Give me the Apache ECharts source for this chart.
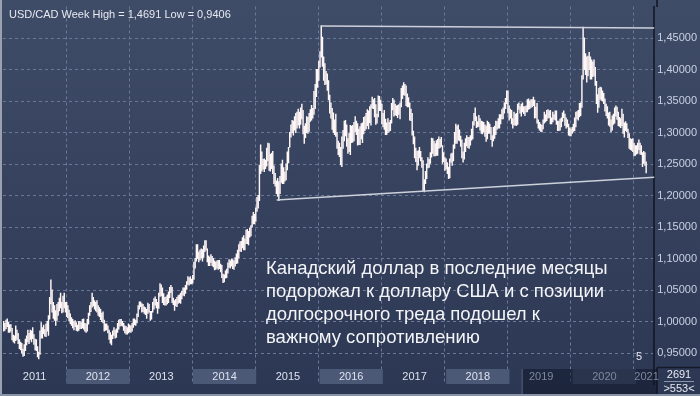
<!DOCTYPE html>
<html><head><meta charset="utf-8">
<script src="https://cdn.jsdelivr.net/npm/echarts@6.0.0/dist/echarts.min.js"></script>
<style>html,body{margin:0;padding:0;background:#34405c}#c{width:700px;height:396px}</style>
</head><body><div id="c"></div>
<script>
// Weekly [low, high] ranges of USD/CAD
const w2011 = [[0.985,1.000],[0.986,0.997],[0.989,1.002],[0.992,1.004],
[0.983,0.999],[0.983,0.995],[0.985,0.995],[0.971,0.989],
[0.968,0.978],[0.966,0.977],[0.970,0.993],[0.972,0.986],[0.965,0.981],
[0.957,0.971],[0.955,0.967],[0.950,0.965],[0.945,0.956],
[0.946,0.963],[0.954,0.972],[0.963,0.977],[0.968,0.986],
[0.965,0.981],[0.972,0.986],[0.968,0.985],[0.973,0.990],[0.964,0.979],
[0.955,0.972],[0.954,0.971],[0.944,0.960],[0.941,0.951],
[0.948,0.985],[0.974,0.998],[0.974,0.990],[0.981,0.994],[0.977,0.987],
[0.976,0.996],[0.985,1.000],[0.978,1.009],[1.004,1.038],
[1.028,1.066],[1.015,1.050],[1.005,1.030],[1.002,1.025],[0.994,1.017],
[1.002,1.027],[1.010,1.030],[1.017,1.037],[1.022,1.045],
[1.014,1.030],[1.015,1.040],[1.022,1.045],[1.015,1.030]];
const w2012 = [[1.008,1.030],[1.006,1.025],[1.001,1.018],[0.997,1.012],
[0.994,1.006],[0.990,1.003],[0.987,1.000],[0.992,1.001],
[0.986,0.998],[0.985,0.994],[0.986,1.000],[0.989,1.000],[0.989,0.998],
[0.990,1.003],[0.988,1.004],[0.985,0.997],[0.983,0.996],
[0.985,1.003],[0.996,1.013],[1.010,1.025],[1.016,1.030],
[1.023,1.045],[1.025,1.038],[1.020,1.033],[1.017,1.030],[1.015,1.033],
[1.010,1.025],[1.008,1.022],[1.003,1.019],[1.000,1.013],
[0.998,1.015],[0.985,1.002],[0.986,0.996],[0.987,0.996],[0.982,0.993],
[0.972,0.986],[0.966,0.982],[0.963,0.978],[0.973,0.985],
[0.978,0.990],[0.974,0.986],[0.975,0.988],[0.983,0.997],[0.988,1.002],
[0.993,1.003],[0.994,1.003],[0.993,1.000],[0.986,0.997],
[0.982,0.993],[0.980,0.992],[0.980,0.990],[0.982,0.996]];
const w2013 = [[0.984,0.994],[0.983,0.993],[0.985,0.997],[0.991,1.004],
[0.995,1.004],[0.994,1.002],[0.998,1.012],[1.008,1.025],
[1.020,1.031],[1.024,1.031],[1.015,1.028],[1.016,1.027],[1.013,1.023],
[1.011,1.022],[1.005,1.019],[1.013,1.029],[1.015,1.027],
[1.002,1.016],[1.004,1.016],[1.015,1.030],[1.020,1.036],[1.026,1.039],
[1.022,1.035],[1.013,1.030],[1.021,1.045],[1.040,1.060],
[1.041,1.058],[1.030,1.053],[1.027,1.044],[1.026,1.038],
[1.026,1.039],[1.028,1.042],[1.030,1.047],[1.038,1.054],[1.046,1.057],
[1.030,1.054],[1.027,1.037],[1.018,1.033],[1.025,1.035],
[1.024,1.038],[1.029,1.041],[1.030,1.042],[1.029,1.045],[1.036,1.048],
[1.042,1.053],[1.041,1.053],[1.045,1.057],[1.051,1.063],
[1.059,1.071],[1.058,1.069],[1.060,1.071],[1.060,1.067]];
const w2014 = [[1.061,1.073],[1.067,1.094],[1.085,1.100],[1.096,1.122],
[1.100,1.122],[1.095,1.110],[1.098,1.113],[1.101,1.115],
[1.096,1.114],[1.102,1.120],[1.111,1.128],[1.114,1.128],
[1.095,1.115],[1.089,1.104],[1.089,1.102],[1.094,1.106],[1.089,1.103],
[1.087,1.100],[1.082,1.096],[1.083,1.094],[1.085,1.096],
[1.083,1.097],[1.084,1.097],[1.079,1.091],[1.070,1.089],
[1.062,1.075],[1.063,1.074],[1.069,1.080],[1.070,1.083],[1.077,1.093],
[1.086,1.098],[1.085,1.096],[1.088,1.099],[1.084,1.098],
[1.083,1.096],[1.088,1.101],[1.092,1.107],[1.093,1.113],[1.101,1.122],
[1.112,1.126],[1.111,1.127],[1.117,1.133],[1.114,1.136],
[1.114,1.131],[1.124,1.145],[1.124,1.146],[1.122,1.143],
[1.134,1.148],[1.136,1.152],[1.150,1.167],[1.155,1.173],[1.155,1.170]];
const w2015 = [[1.159,1.180],[1.175,1.197],[1.180,1.200],[1.192,1.248],[1.235,1.280],
[1.239,1.269],[1.242,1.257],[1.238,1.258],[1.243,1.256],
[1.247,1.275],[1.255,1.283],[1.240,1.282],[1.239,1.265],
[1.243,1.267],[1.235,1.270],[1.219,1.247],[1.215,1.235],[1.203,1.223],
[1.199,1.227],[1.192,1.222],[1.203,1.230],[1.221,1.250],
[1.219,1.256],[1.219,1.244],[1.223,1.237],[1.225,1.250],
[1.241,1.269],[1.252,1.276],[1.277,1.300],[1.293,1.312],
[1.300,1.319],[1.296,1.318],[1.304,1.325],[1.300,1.330],[1.307,1.332],
[1.312,1.337],[1.307,1.332],[1.313,1.339],[1.322,1.345],
[1.298,1.335],[1.283,1.310],[1.292,1.314],[1.300,1.325],[1.299,1.324],
[1.302,1.330],[1.318,1.336],[1.320,1.343],[1.323,1.338],
[1.329,1.365],[1.338,1.376],[1.357,1.400],[1.372,1.400]];
const w2016 = [[1.383,1.413],[1.404,1.428],[1.420,1.469],[1.405,1.451],[1.383,1.420],
[1.376,1.409],[1.377,1.397],[1.367,1.393],[1.352,1.382],
[1.331,1.359],[1.323,1.347],[1.305,1.338],[1.300,1.331],[1.297,1.320],
[1.294,1.329],[1.275,1.300],[1.265,1.286],[1.262,1.283],[1.249,1.276],
[1.246,1.293],[1.275,1.303],[1.287,1.318],[1.295,1.319],
[1.278,1.312],[1.267,1.290],[1.270,1.299],[1.265,1.311],
[1.284,1.310],[1.285,1.311],[1.287,1.316],[1.301,1.325],
[1.297,1.318],[1.280,1.314],[1.281,1.305],[1.281,1.309],
[1.290,1.314],[1.284,1.315],[1.298,1.324],[1.303,1.325],
[1.306,1.330],[1.311,1.336],[1.306,1.334],[1.316,1.341],
[1.312,1.344],[1.339,1.356],[1.338,1.352],[1.325,1.354],
[1.313,1.344],[1.315,1.329],[1.325,1.358],[1.335,1.357],[1.335,1.351]];
const w2017 = [[1.314,1.345],[1.309,1.330],[1.305,1.335],[1.297,1.321],
[1.297,1.315],[1.300,1.322],[1.302,1.316],[1.303,1.319],
[1.315,1.346],[1.336,1.354],[1.326,1.351],[1.328,1.345],[1.327,1.342],
[1.324,1.343],[1.329,1.344],[1.322,1.347],[1.341,1.370],[1.354,1.374],
[1.360,1.379],[1.359,1.376],[1.343,1.374],[1.341,1.361],
[1.341,1.355],[1.320,1.347],[1.319,1.337],[1.296,1.330],
[1.282,1.302],[1.260,1.293],[1.254,1.275],[1.241,1.270],
[1.248,1.271],[1.260,1.276],[1.255,1.270],[1.245,1.260],
[1.208,1.255],[1.206,1.225],[1.219,1.238],[1.227,1.250],
[1.244,1.260],[1.245,1.257],[1.251,1.268],[1.261,1.291],
[1.267,1.290],[1.263,1.286],[1.263,1.282],[1.264,1.287],[1.264,1.289],
[1.275,1.293],[1.276,1.289],[1.278,1.292],[1.251,1.279],[1.254,1.268]];
const w2018 = [[1.240,1.260],[1.242,1.258],[1.235,1.252],[1.227,1.245],
[1.228,1.258],[1.253,1.266],[1.248,1.267],[1.255,1.280],
[1.275,1.300],[1.283,1.313],[1.283,1.310],[1.288,1.312],[1.287,1.304],
[1.278,1.294],[1.260,1.288],[1.253,1.269],[1.258,1.283],[1.270,1.290],
[1.279,1.295],[1.276,1.292],[1.275,1.292],[1.280,1.295],
[1.288,1.305],[1.290,1.317],[1.312,1.330],[1.319,1.339],
[1.308,1.325],[1.309,1.317],[1.310,1.327],[1.304,1.322],
[1.299,1.318],[1.298,1.317],[1.301,1.316],[1.294,1.312],[1.286,1.310],
[1.290,1.318],[1.299,1.316],[1.299,1.313],[1.289,1.308],
[1.278,1.295],[1.287,1.308],[1.291,1.310],[1.297,1.318],
[1.305,1.317],[1.307,1.322],[1.307,1.328],[1.314,1.328],[1.322,1.336],
[1.322,1.339],[1.331,1.347],[1.338,1.354],[1.346,1.366]];
const w2019 = [[1.331,1.366],[1.320,1.342],[1.323,1.337],[1.314,1.335],
[1.307,1.322],[1.312,1.332],[1.312,1.329],[1.311,1.330],
[1.313,1.345],[1.337,1.347],[1.331,1.341],[1.326,1.345],[1.333,1.347],
[1.330,1.341],[1.327,1.341],[1.333,1.342],[1.333,1.352],
[1.337,1.353],[1.338,1.350],[1.340,1.352],[1.341,1.352],[1.343,1.356],
[1.323,1.351],[1.324,1.340],[1.315,1.346],[1.307,1.320],
[1.304,1.316],[1.302,1.313],[1.301,1.311],[1.306,1.320],
[1.315,1.332],[1.317,1.328],[1.319,1.335],[1.323,1.336],[1.324,1.334],
[1.314,1.335],[1.314,1.323],[1.317,1.332],[1.321,1.328],
[1.320,1.334],[1.313,1.334],[1.303,1.318],[1.303,1.318],
[1.304,1.321],[1.309,1.323],[1.318,1.331],[1.324,1.334],
[1.311,1.329],[1.307,1.323],[1.309,1.320],[1.296,1.313],[1.295,1.307]];
const w2020 = [[1.295,1.305],[1.299,1.308],[1.302,1.313],[1.303,1.323],
[1.309,1.332],[1.322,1.333],[1.320,1.335],[1.325,1.346],
[1.327,1.347],[1.340,1.390],[1.385,1.467],[1.400,1.450],[1.392,1.425],
[1.380,1.420],[1.390,1.421],[1.400,1.427],[1.385,1.420],
[1.385,1.415],[1.389,1.412],[1.390,1.415],[1.375,1.403],
[1.346,1.381],[1.332,1.360],[1.340,1.370],[1.353,1.372],
[1.351,1.371],[1.350,1.366],[1.346,1.362],[1.334,1.353],
[1.327,1.345],[1.323,1.341],[1.312,1.331],[1.310,1.332],
[1.301,1.320],[1.304,1.326],[1.313,1.329],[1.315,1.339],[1.326,1.342],
[1.321,1.340],[1.311,1.332],[1.310,1.324],[1.308,1.322],[1.311,1.337],
[1.299,1.329],[1.293,1.315],[1.303,1.317],[1.301,1.314],
[1.292,1.305],[1.275,1.298],[1.273,1.290],[1.272,1.289],[1.270,1.290]];
const w2021 = [[1.263,1.283],[1.264,1.279],[1.266,1.279],[1.267,1.283],
[1.273,1.288],[1.266,1.283],[1.265,1.279],[1.246,1.268],
[1.251,1.270],[1.248,1.268],[1.236,1.253]];

const weeklyByYear = {2011:w2011,2012:w2012,2013:w2013,2014:w2014,2015:w2015,2016:w2016,
  2017:w2017,2018:w2018,2019:w2019,2020:w2020,2021:w2021};
const yearLabels = ['2011','2012','2013','2014','2015','2016','2017','2018','2019','2020','2021'];
const topTrend = [[2016.04,1.469],[2021.33,1.466]];
const bottomTrend = [[2015.34,1.193],[2021.33,1.229]];
const lastPrice = 1.25105;
const titleText = 'USD/CAD Week High = 1,4691 Low = 0,9406';
const noteLines = ['Канадский доллар в последние месяцы','подорожал к доллару США и с позиции',
  'долгосрочного треда подошел к','важному сопротивлению'];
const X_MIN = 2011, X_MAX = 2021.33;
const fadedFrom = 2019.2;

const bars = [];
Object.keys(weeklyByYear).forEach(y => {
  weeklyByYear[y].forEach((p, i) => bars.push([+y + (i + 0.5) / 52, p[0], p[1]]));
});

const chart = echarts.init(document.getElementById('c'), null, {renderer: 'canvas'});
const gridColor = '#6a7896';
const FONT = "'Liberation Sans', Arial, sans-serif";
const NARROW = "'Liberation Sans Narrow', 'Liberation Sans', Arial, sans-serif";

chart.setOption({
  animation: false,
  backgroundColor: {type: 'linear', x: 0, y: 0, x2: 0, y2: 1,
    colorStops: [{offset: 0, color: '#3f4c68'}, {offset: 1, color: '#2c3753'}]},
  title: {text: titleText, left: 4, top: 4,
    textStyle: {color: '#e6e9f0', fontSize: 11, fontWeight: 'normal', fontFamily: NARROW}},
  grid: [
    {left: 3, right: 43, top: 6.5, bottom: 11.5},
    {left: 3, right: 43, top: 368, bottom: 0}
  ],
  xAxis: [
    {type: 'value', gridIndex: 0, min: X_MIN, max: X_MAX, interval: 1,
      axisLine: {show: false}, axisTick: {show: false}, axisLabel: {show: false},
      splitLine: {show: true, showMinLine: false, showMaxLine: false, lineStyle: {color: gridColor, type: [3, 3], width: 1}}},
    {type: 'value', gridIndex: 1, min: X_MIN, max: X_MAX, position: 'top',
      axisLine: {show: true, lineStyle: {color: '#141a28', width: 1.5}},
      axisTick: {show: false}, axisLabel: {show: false}, splitLine: {show: false}}
  ],
  yAxis: [
    {type: 'value', gridIndex: 0, position: 'right', min: 0.9, max: 1.5, interval: 0.05,
      axisLine: {show: true, lineStyle: {color: '#10151f', width: 1.5}},
      axisTick: {show: false},
      axisLabel: {color: '#c9d1e3', fontSize: 11, margin: 3, fontFamily: NARROW,
        formatter: v => (v < 0.93 || v > 1.47) ? '' : v.toFixed(5).replace('.', ',')},
      splitLine: {show: true, showMinLine: false, showMaxLine: false, lineStyle: {color: gridColor, type: [3, 3], width: 1}}},
    {type: 'value', gridIndex: 1, position: 'right', min: 0, max: 1,
      axisLine: {show: true, lineStyle: {color: '#10151f', width: 1.5}},
      axisTick: {show: false}, axisLabel: {show: false}, splitLine: {show: false}}
  ],
  series: [
    {
      type: 'custom', xAxisIndex: 0, yAxisIndex: 0, data: bars, encode: {x: 0, y: [1, 2]},
      clip: true, z: 3,
      renderItem: (params, api) => {
        const a = api.coord([api.value(0), api.value(1)]);
        const b = api.coord([api.value(0), api.value(2)]);
        return {type: 'line', shape: {x1: a[0], y1: a[1] + 0.5, x2: b[0], y2: b[1] - 0.5},
          style: {stroke: '#fff6f6', lineWidth: 1.45}};
      }
    },
    {type: 'line', xAxisIndex: 0, yAxisIndex: 0, data: topTrend, symbol: 'none', z: 4,
      lineStyle: {color: '#cdd1da', width: 1.5}},
    {type: 'line', xAxisIndex: 0, yAxisIndex: 0, data: bottomTrend, symbol: 'none', z: 4,
      lineStyle: {color: '#cdd1da', width: 1.5},
      markLine: {silent: true, symbol: 'none', data: [{yAxis: lastPrice}],
        lineStyle: {opacity: 0},
        label: {show: true, position: 'end', distance: 3, formatter: '1,25105',
          color: '#1e2230', backgroundColor: '#c4c8d0', padding: [2, 2, 1, 2],
          fontSize: 11, fontFamily: NARROW}}},
    {
      type: 'custom', xAxisIndex: 1, yAxisIndex: 1, data: yearLabels.map(y => [+y]), z: 2,
      renderItem: (params, api) => {
        const cs = params.coordSys;
        const y0 = +yearLabels[params.dataIndex];
        const xa = Math.max(api.coord([y0, 0])[0], cs.x);
        const xb = Math.min(api.coord([y0 + 1, 0])[0], cs.x + cs.width);
        const shaded = params.dataIndex % 2 === 1;
        return {type: 'rect', shape: {x: xa, y: cs.y + 1, width: xb - xa, height: 15},
          style: {fill: shaded ? '#4b5876' : 'rgba(0,0,0,0)'}};
      }
    },
    {
      type: 'custom', xAxisIndex: 1, yAxisIndex: 1, data: [[fadedFrom]], z: 3,
      renderItem: (params, api) => {
        const cs = params.coordSys;
        const xa = api.coord([api.value(0), 0])[0];
        return {type: 'group', children: [
          {type: 'rect', shape: {x: xa, y: cs.y + 1, width: cs.x + cs.width - xa, height: cs.height},
            style: {fill: 'rgba(16,23,42,0.55)'}},
          {type: 'line', shape: {x1: xa, y1: cs.y + 1, x2: xa, y2: cs.y + cs.height},
            style: {stroke: '#59657f', lineWidth: 1}}
        ]};
      }
    },
    {
      type: 'custom', xAxisIndex: 1, yAxisIndex: 1, data: yearLabels.map(y => [+y]), z: 4,
      renderItem: (params, api) => {
        const cs = params.coordSys;
        const y0 = +yearLabels[params.dataIndex];
        const xa = Math.max(api.coord([y0, 0])[0], cs.x);
        const xb = Math.min(api.coord([y0 + 1, 0])[0], cs.x + cs.width);
        const faded = y0 + 0.5 > fadedFrom;
        return {type: 'text', style: {text: yearLabels[params.dataIndex], x: (xa + xb) / 2, y: cs.y + 9,
          align: 'center', verticalAlign: 'middle', fill: faded ? '#7d889e' : '#dde2ec',
          font: '11px ' + NARROW}};
      }
    }
  ],
  graphic: [
    {type: 'text', left: 266, top: 257, z: 10,
      style: {text: noteLines.join('\n'), fill: '#f4f5f8', font: '18.5px ' + FONT, lineHeight: 23}},
    {type: 'text', left: 636, top: 351, z: 10, style: {text: '5', fill: '#e8ebf2', font: '11px ' + NARROW}},
    {type: 'text', x: 679, y: 375, z: 10,
      style: {text: '2691', fill: '#e8ebf2', font: '11px ' + NARROW, align: 'center', verticalAlign: 'middle'}},
    {type: 'line', z: 10, shape: {x1: 664, y1: 381.5, x2: 694, y2: 381.5}, style: {stroke: '#8a94a8', lineWidth: 1}},
    {type: 'text', x: 679, y: 389, z: 10,
      style: {text: '>553<', fill: '#e8ebf2', font: '11px ' + NARROW, align: 'center', verticalAlign: 'middle'}},
    {type: 'line', z: 9, shape: {x1: 657, y1: 367.5, x2: 700, y2: 367.5}, style: {stroke: '#141a28', lineWidth: 1.5}},
    {type: 'line', z: 9, shape: {x1: 657, y1: 0, x2: 657, y2: 7}, style: {stroke: '#10151f', lineWidth: 1.5}},
    {type: 'rect', z: 9, shape: {x: 0, y: 0, width: 2, height: 396}, style: {fill: '#9aa2b2'}},
    {type: 'rect', z: 9, shape: {x: 0, y: 394, width: 700, height: 2}, style: {fill: '#8a93a5'}}
  ]
});
</script>
</body></html>
